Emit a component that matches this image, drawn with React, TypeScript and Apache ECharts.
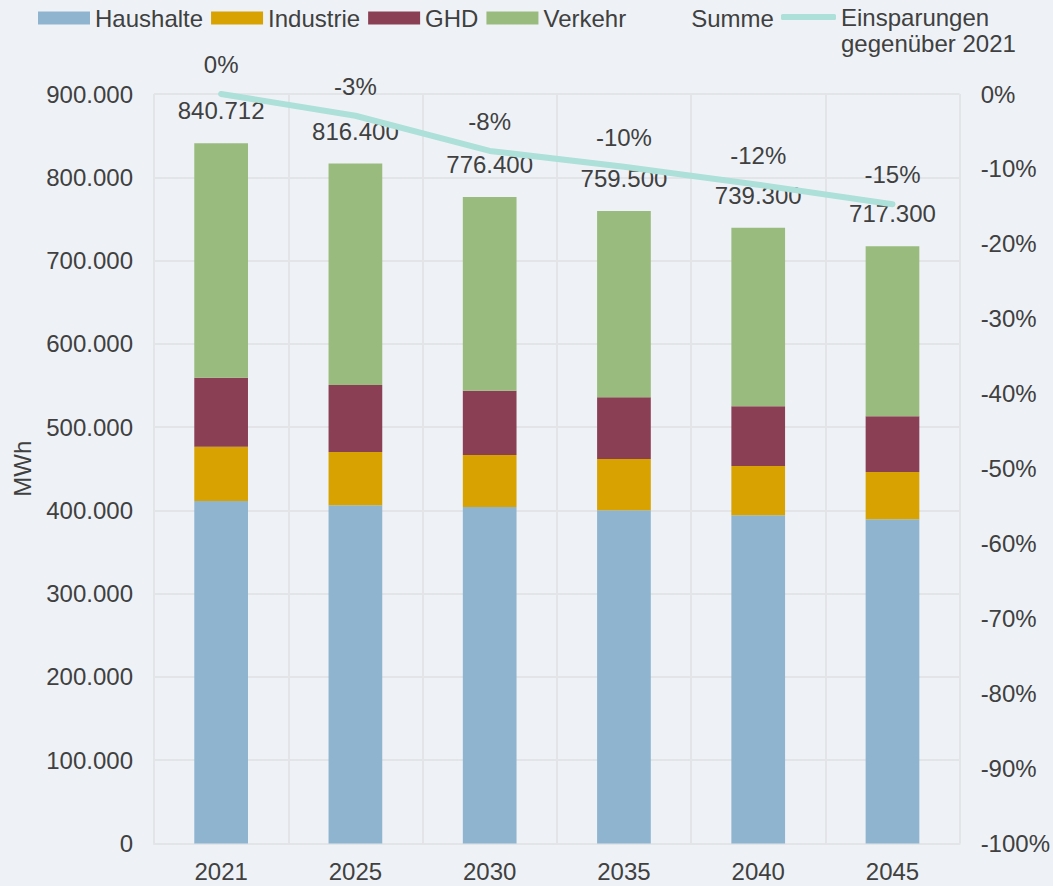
import React, { useEffect, useRef } from "react";
import * as echarts from "echarts";

const years = ["2021", "2025", "2030", "2035", "2040", "2045"];
const haushalte = [411300, 406100, 404100, 400100, 394100, 389300];
const industrie = [65200, 64000, 62400, 61600, 59200, 56800];
const ghd = [82800, 80500, 77200, 74100, 71700, 66900];
const verkehr = [281412, 265800, 232700, 223700, 214300, 204300];
const summe = [840712, 816400, 776400, 759500, 739300, 717300];
const einsparungen = [0, -2.9, -7.6, -9.7, -12.1, -14.7];

const FONT = "'Liberation Sans', Arial, sans-serif";
const TXT = "#404040";
const GRID = "#E2E4E7";
const BG = "#EEF2F6";
const TEAL = "#ADE0D8";
const COLORS = {
  Haushalte: "#8EB4CF",
  Industrie: "#D8A200",
  GHD: "#8B3F55",
  Verkehr: "#99BB7D",
};

const fmtDE = (v: number) => String(v).replace(/\B(?=(\d{3})+(?!\d))/g, ".");

export default function App() {
  const ref = useRef<HTMLDivElement>(null);
  useEffect(() => {
    if (!ref.current) return;
    const chart = echarts.init(ref.current, undefined, { renderer: "svg" });
    const barSeries = (name: string, data: number[]) => ({
      name,
      type: "bar",
      stack: "total",
      data,
      barWidth: "40%",
      itemStyle: { color: (COLORS as any)[name] },
      yAxisIndex: 0,
    });
    chart.setOption({
      animation: false,
      backgroundColor: BG,
      textStyle: { fontFamily: FONT, color: TXT },
      legend: [
        {
          left: 38,
          top: 6,
          padding: 0,
          itemWidth: 52,
          itemHeight: 13,
          itemGap: 8,
          textStyle: { fontSize: 24, lineHeight: 22, color: TXT, fontFamily: FONT },
          data: [
            { name: "Haushalte", icon: "rect" },
            { name: "Industrie", icon: "rect" },
            { name: "GHD", icon: "rect" },
            { name: "Verkehr", icon: "rect" },
            { name: "Summe", icon: "rect", itemStyle: { color: "rgba(0,0,0,0)" } },
          ],
        },
        {
          left: 781,
          top: 5,
          padding: 0,
          itemWidth: 55,
          itemHeight: 6,
          textStyle: { fontSize: 24, lineHeight: 22, color: TXT, fontFamily: FONT },
          formatter: () => "Einsparungen",
          data: [
            {
              name: "Einsparungen gegenüber 2021",
              icon: "roundRect",
              itemStyle: { color: TEAL },
            },
          ],
        },
      ],
      graphic: [
        {
          type: "text",
          x: 841,
          y: 43.5,
          style: {
            text: "gegenüber 2021",
            fontSize: 24,
            fontFamily: FONT,
            fill: TXT,
            verticalAlign: "middle",
            textVerticalAlign: "middle",
          },
        },
      ],
      grid: { left: 154, right: 91, top: 94, bottom: 42.5 },
      xAxis: {
        type: "category",
        data: years,
        axisLine: { show: true, lineStyle: { color: GRID, width: 2 } },
        axisTick: { show: false },
        splitLine: { show: true, lineStyle: { color: GRID, width: 2 } },
        axisLabel: { fontSize: 24, color: TXT, fontFamily: FONT, margin: 16 },
      },
      yAxis: [
        {
          type: "value",
          min: 0,
          max: 900000,
          interval: 100000,
          name: "MWh",
          nameLocation: "middle",
          nameGap: 120,
          nameRotate: 90,
          nameTextStyle: { fontSize: 24, color: TXT, fontFamily: FONT },
          axisLine: { show: false },
          axisTick: { show: false },
          splitLine: { show: true, lineStyle: { color: GRID, width: 2 } },
          axisLabel: {
            fontSize: 24,
            color: TXT,
            fontFamily: FONT,
            margin: 21,
            formatter: (v: number) => fmtDE(v),
          },
        },
        {
          type: "value",
          min: -100,
          max: 0,
          interval: 10,
          axisLine: { show: false },
          axisTick: { show: false },
          splitLine: { show: false },
          axisLabel: {
            fontSize: 24,
            color: TXT,
            fontFamily: FONT,
            margin: 21,
            formatter: (v: number) => `${v}%`,
          },
        },
      ],
      series: [
        barSeries("Haushalte", haushalte),
        barSeries("Industrie", industrie),
        barSeries("GHD", ghd),
        barSeries("Verkehr", verkehr),
        {
          name: "Summe",
          type: "line",
          data: summe,
          yAxisIndex: 0,
          symbol: "circle",
          symbolSize: 1,
          itemStyle: { color: "rgba(0,0,0,0)" },
          lineStyle: { width: 0, color: "rgba(0,0,0,0)" },
          label: {
            show: true,
            position: "top",
            distance: 20,
            fontSize: 24,
            color: TXT,
            fontFamily: FONT,
            formatter: (p: any) => fmtDE(p.value),
          },
          z: 3,
        },
        {
          name: "Einsparungen gegenüber 2021",
          type: "line",
          data: einsparungen,
          yAxisIndex: 1,
          symbol: "circle",
          symbolSize: 1,
          itemStyle: { color: "rgba(0,0,0,0)" },
          lineStyle: { width: 6, color: TEAL, cap: "round", join: "round" },
          label: {
            show: true,
            position: "top",
            distance: 17,
            fontSize: 24,
            color: TXT,
            fontFamily: FONT,
            formatter: (p: any) => `${Math.round(p.value)}%`,
          },
          z: 4,
        },
      ],
    });
    return () => chart.dispose();
  }, []);
  return (
    <div
      ref={ref}
      style={{ position: "fixed", left: 0, top: 0, width: 1053, height: 886 }}
    />
  );
}
